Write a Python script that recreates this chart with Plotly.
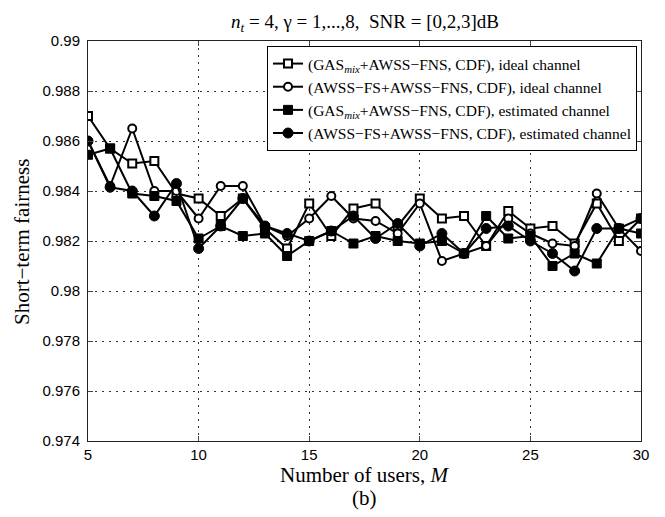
import plotly.graph_objects as go

users = list(range(5, 31))

gas_ideal = [0.9870, 0.9857, 0.9851, 0.9852, 0.9839, 0.9837, 0.9830, 0.9837, 0.9825, 0.9817,
             0.9835, 0.9822, 0.9833, 0.9835, 0.9826, 0.9837, 0.9829, 0.9830, 0.9818, 0.9832,
             0.9825, 0.9826, 0.9819, 0.9835, 0.9820, 0.9829]
awss_ideal = [0.9860, 0.9842, 0.9865, 0.9840, 0.9840, 0.9829, 0.9842, 0.9842, 0.9826, 0.9822,
              0.9829, 0.9838, 0.9829, 0.9828, 0.9823, 0.9835, 0.9812, 0.9815, 0.9818, 0.9829,
              0.9823, 0.9819, 0.9818, 0.9839, 0.9825, 0.9816]
gas_est = [0.98545, 0.9857, 0.9839, 0.9838, 0.9836, 0.9821, 0.9826, 0.9822, 0.9823, 0.9814,
           0.9820, 0.9824, 0.9819, 0.9822, 0.9820, 0.9819, 0.9820, 0.9815, 0.9830, 0.9821,
           0.9822, 0.9810, 0.9815, 0.9811, 0.9825, 0.9823]
awss_est = [0.9860, 0.98415, 0.9840, 0.9830, 0.9843, 0.9817, 0.9826, 0.9837, 0.9826, 0.9823,
            0.9820, 0.9824, 0.9830, 0.9821, 0.9827, 0.9818, 0.9823, 0.9815, 0.9825, 0.9826,
            0.9820, 0.9815, 0.9808, 0.9825, 0.9825, 0.9829]

names = [
    "(GAS<sub><i>mix</i></sub>+AWSS\u2212FNS, CDF), ideal channel",
    "(AWSS\u2212FS+AWSS\u2212FNS, CDF), ideal channel",
    "(GAS<sub><i>mix</i></sub>+AWSS\u2212FNS, CDF), estimated channel",
    "(AWSS\u2212FS+AWSS\u2212FNS, CDF), estimated channel",
]

title_text = "<i>n</i><sub><i>t</i></sub> = 4, \u03b3 = 1,...,8,\u00a0\u00a0SNR = [0,2,3]dB"

y_ticks = [0.974, 0.976, 0.978, 0.98, 0.982, 0.984, 0.986, 0.988, 0.99]
y_tick_text = ["0.974", "0.976", "0.978", "0.98", "0.982", "0.984", "0.986", "0.988", "0.99"]
x_ticks = [5, 10, 15, 20, 25, 30]

series = [gas_ideal, awss_ideal, gas_est, awss_est]
markers = [
    dict(symbol="square", size=8, color="white", line=dict(color="black", width=2)),
    dict(symbol="circle", size=8, color="white", line=dict(color="black", width=2)),
    dict(symbol="square", size=9, color="black", line=dict(color="black", width=1)),
    dict(symbol="circle", size=10, color="black", line=dict(color="black", width=1)),
]

fig = go.Figure()
for vals, name, mk in zip(series, names, markers):
    fig.add_trace(go.Scatter(x=users, y=vals, mode="lines+markers", name=name,
                             line=dict(color="black", width=2), marker=mk))

serif = "Liberation Serif, Times New Roman, serif"
sans = "Liberation Sans, Arial, sans-serif"

W, H = 657, 509
fig.update_layout(
    width=W, height=H,
    margin=dict(l=80, r=24, t=33, b=76),
    paper_bgcolor="white", plot_bgcolor="white",
    showlegend=True,
    legend=dict(x=0.9928, y=0.9875, xanchor="right", yanchor="top",
                bgcolor="white", bordercolor="black", borderwidth=1,
                font=dict(family=serif, size=15.5, color="black"),
                tracegroupgap=0),
    xaxis=dict(range=[5, 30], tickvals=x_ticks, ticks="inside", ticklen=5,
               showline=True, linecolor="#222", linewidth=1, mirror="ticks",
               showgrid=True, gridcolor="#333", griddash="2px,5px", gridwidth=1,
               zeroline=False,
               tickfont=dict(family=sans, size=15, color="black")),
    yaxis=dict(range=[0.974, 0.99], tickvals=y_ticks, ticktext=y_tick_text,
               ticks="inside", ticklen=5, ticklabelstandoff=4,
               showline=True, linecolor="#222", linewidth=1, mirror="ticks",
               showgrid=True, gridcolor="#333", griddash="2px,5px", gridwidth=1,
               zeroline=False,
               tickfont=dict(family=sans, size=15, color="black")),
)

fig.add_annotation(text=title_text, xref="paper", yref="paper",
                   x=0.5, y=1 + (41 - 23) / 400, xanchor="center", yanchor="middle",
                   showarrow=False, font=dict(family=serif, size=19, color="black"))
fig.add_annotation(text="Number of users, <i>M</i>", xref="paper", yref="paper",
                   x=0.5, y=-(475 - 441) / 400, xanchor="center", yanchor="middle",
                   showarrow=False, font=dict(family=serif, size=21, color="black"))
fig.add_annotation(text="Short\u2212term fairness", xref="paper", yref="paper",
                   x=(22 - 88) / 553, y=0.4975, xanchor="center", yanchor="middle",
                   textangle=-90, showarrow=False,
                   font=dict(family=serif, size=21, color="black"))
fig.add_annotation(text="(b)", xref="paper", yref="paper", x=0.5, y=-(498 - 441) / 400,
                   xanchor="center", yanchor="middle", showarrow=False,
                   font=dict(family=serif, size=21, color="black"))

fig.write_html("out.html")
